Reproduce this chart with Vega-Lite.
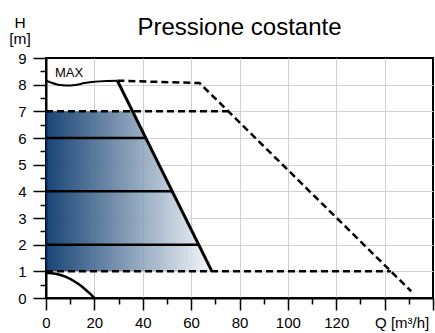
{
  "$schema": "https://vega.github.io/schema/vega-lite/v6.json",
  "autosize": "none",
  "width": 387,
  "height": 240,
  "padding": {"left": 46, "top": 58, "right": 2, "bottom": 35},
  "background": "white",
  "title": {"text": "Pressione costante", "fontSize": 24, "font": "Liberation Sans", "fontWeight": "normal", "color": "black", "anchor": "middle", "dy": 29},
  "config": {
    "view": {"stroke": "black", "strokeWidth": 2},
    "font": "Liberation Sans",
    "axis": {"domainColor": "black", "domainWidth": 2, "tickColor": "black", "tickWidth": 1.5, "labelFontSize": 15, "labelColor": "black", "labelFont": "Liberation Sans", "gridColor": "#d0d0d0", "gridWidth": 1, "labelOverlap": false, "labelFlush": false}
  },
  "datasets": {
    "area": [{"q": 68.6, "h": 1}, {"q": 35.8, "h": 7}],
    "maxc": [{"q": 0, "h": 8.15}, {"q": 2, "h": 8.08}, {"q": 5, "h": 8.0}, {"q": 8.5, "h": 7.97}, {"q": 12, "h": 7.99}, {"q": 16, "h": 8.06}, {"q": 20, "h": 8.11}, {"q": 25, "h": 8.14}, {"q": 29.5, "h": 8.15}],
    "slope": [{"q": 29.5, "h": 8.15}, {"q": 68.6, "h": 1.0}],
    "solidh": [{"q": 0, "q2": 63.1, "h": 2}, {"q": 0, "q2": 52.2, "h": 4}, {"q": 0, "q2": 41.3, "h": 6}],
    "dashh": [{"q": 0, "q2": 75.5, "h": 7}, {"q": 0, "q2": 142.6, "h": 1}],
    "dashp": [{"q": 29.5, "h": 8.15}, {"q": 63.5, "h": 8.06}, {"q": 151, "h": 0.25}],
    "small": [{"q": 0, "h": 0.95}, {"q": 4, "h": 0.91}, {"q": 8, "h": 0.8}, {"q": 12, "h": 0.61}, {"q": 14, "h": 0.49}, {"q": 16, "h": 0.34}, {"q": 18, "h": 0.18}, {"q": 20, "h": 0}],
    "lbl": [{"q": 3.7, "h": 8.28, "t": "MAX"}]
  },
  "encoding": {
    "x": {"field": "q", "type": "quantitative", "scale": {"domain": [0, 160], "nice": false, "zero": false},
      "axis": {"title": null, "values": [0, 10, 20, 30, 40, 50, 60, 70, 80, 90, 100, 110, 120, 130, 140, 150, 160],
        "labelExpr": "datum.value == 140 ? 'Q [m³/h]' : ((datum.value % 20 == 0 && datum.value < 140) ? format(datum.value, 'd') : '')",
        "labelOffset": {"condition": {"test": "datum.value == 140", "value": 17}, "value": 0},
        "tickSize": {"condition": {"test": "datum.value % 20 == 0", "value": 12}, "value": 6},
        "gridOpacity": {"condition": {"test": "datum.value % 20 == 0 && datum.value > 0 && datum.value < 160", "value": 1}, "value": 0},
        "labelPadding": 5, "grid": true}},
    "y": {"field": "h", "type": "quantitative", "scale": {"domain": [0, 9], "nice": false, "zero": false},
      "axis": {"title": ["H", "[m]"], "titleAngle": 0, "titleX": -26.5, "titleY": -31, "titleAlign": "center", "titleBaseline": "alphabetic", "titleFontSize": 15.5, "titleFontWeight": "normal", "titleLineHeight": 16, "titleColor": "black", "titleFont": "Liberation Sans",
        "values": [0, 0.5, 1, 1.5, 2, 2.5, 3, 3.5, 4, 4.5, 5, 5.5, 6, 6.5, 7, 7.5, 8, 8.5, 9],
        "labelExpr": "datum.value % 1 == 0 ? format(datum.value, 'd') : ''",
        "tickSize": {"condition": {"test": "datum.value % 1 == 0", "value": 13}, "value": 6},
        "gridOpacity": {"condition": {"test": "datum.value % 1 == 0 && datum.value > 0 && datum.value < 9", "value": 1}, "value": 0},
        "labelPadding": 7, "grid": true}}
  },
  "layer": [
    {"data": {"name": "area"}, "mark": {"type": "area", "orient": "horizontal", "opacity": 0.9,
      "color": {"gradient": "linear", "x1": 0, "y1": 0, "x2": 1, "y2": 0, "stops": [{"offset": 0, "color": "#003066"}, {"offset": 1, "color": "#f4f7fa"}]}},
      "encoding": {"x2": {"datum": 0}}},
    {"data": {"name": "solidh"}, "mark": {"type": "rule", "color": "black", "strokeWidth": 2.5}, "encoding": {"x2": {"field": "q2"}}},
    {"data": {"name": "dashh"}, "mark": {"type": "rule", "color": "black", "strokeWidth": 2.5, "strokeDash": [7, 4]}, "encoding": {"x2": {"field": "q2"}}},
    {"data": {"name": "dashp"}, "mark": {"type": "line", "color": "black", "strokeWidth": 2.5, "strokeDash": [7, 4]}, "encoding": {}},
    {"data": {"name": "maxc"}, "mark": {"type": "line", "color": "black", "strokeWidth": 2, "interpolate": "monotone"}, "encoding": {}},
    {"data": {"name": "slope"}, "mark": {"type": "line", "color": "black", "strokeWidth": 3}, "encoding": {}},
    {"data": {"name": "small"}, "mark": {"type": "line", "color": "black", "strokeWidth": 2.5, "interpolate": "monotone"}, "encoding": {}},
    {"data": {"name": "lbl"}, "mark": {"type": "text", "align": "left", "baseline": "alphabetic", "fontSize": 13, "color": "black", "font": "Liberation Sans"}, "encoding": {"text": {"field": "t"}}}
  ]
}
